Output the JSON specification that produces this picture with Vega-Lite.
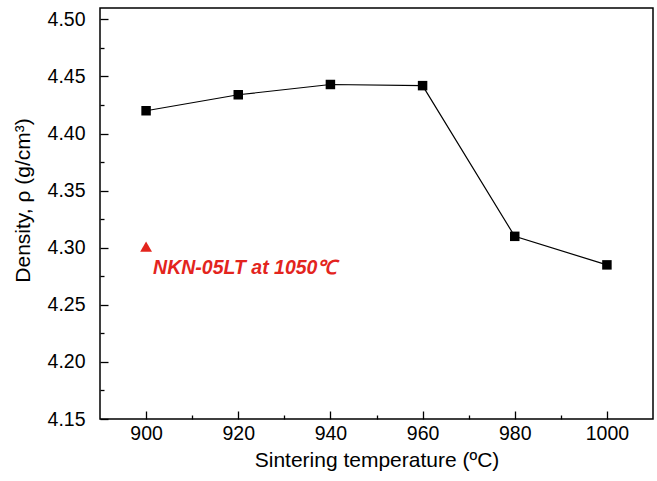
{
  "$schema": "https://vega.github.io/schema/vega-lite/v6.json",
  "width": 553,
  "height": 411,
  "autosize": {"type": "none"},
  "padding": {"left": 100, "top": 8, "right": 4, "bottom": 62},
  "background": "white",
  "config": {
    "font": "Liberation Sans",
    "view": {"stroke": "black", "strokeWidth": 1.5},
    "axis": {
      "domain": false,
      "tickColor": "black",
      "tickWidth": 1.3,
      "labelColor": "black",
      "titleColor": "black",
      "labelFont": "Liberation Sans",
      "titleFont": "Liberation Sans",
      "labelFontSize": 19.5,
      "titleFontSize": 21,
      "titleFontWeight": "normal",
      "grid": false
    }
  },
  "data": {
    "values": [
      {"temp": 900, "density": 4.420, "series": "NKN"},
      {"temp": 920, "density": 4.434, "series": "NKN"},
      {"temp": 940, "density": 4.443, "series": "NKN"},
      {"temp": 960, "density": 4.442, "series": "NKN"},
      {"temp": 980, "density": 4.310, "series": "NKN"},
      {"temp": 1000, "density": 4.285, "series": "NKN"},
      {"temp": 900, "density": 4.301, "series": "NKN-05LT at 1050℃"}
    ]
  },
  "resolve": {"axis": {"x": "independent", "y": "independent"}},
  "layer": [
    {
      "transform": [{"filter": "datum.series == 'NKN'"}],
      "mark": {"type": "line", "color": "black", "strokeWidth": 1.2},
      "encoding": {
        "x": {
          "field": "temp",
          "type": "quantitative",
          "scale": {"domain": [890, 1010], "nice": false, "zero": false},
          "axis": {
            "orient": "bottom",
            "title": "Sintering temperature (ºC)",
            "values": [900, 920, 940, 960, 980, 1000],
            "format": "d",
            "offset": -8,
            "tickSize": 8,
            "labelPadding": 5,
            "titlePadding": 7
          }
        },
        "y": {
          "field": "density",
          "type": "quantitative",
          "scale": {"domain": [4.15, 4.51], "nice": false, "zero": false},
          "axis": {
            "orient": "left",
            "title": "Density, ρ  (g/cm³)",
            "values": [4.15, 4.2, 4.25, 4.3, 4.35, 4.4, 4.45, 4.5],
            "format": ".2f",
            "offset": -8,
            "tickSize": 8,
            "labelPadding": 15,
            "titlePadding": 14,
            "titleY": 192
          }
        }
      }
    },
    {
      "transform": [{"filter": "datum.series == 'NKN'"}],
      "mark": {"type": "point", "shape": "square", "filled": true, "color": "black", "size": 90, "opacity": 1},
      "encoding": {
        "x": {
          "field": "temp",
          "type": "quantitative",
          "axis": {
            "orient": "bottom",
            "title": null,
            "labels": false,
            "values": [910, 930, 950, 970, 990],
            "offset": -4,
            "tickSize": 4
          }
        },
        "y": {
          "field": "density",
          "type": "quantitative",
          "axis": {
            "orient": "left",
            "title": null,
            "labels": false,
            "values": [4.175, 4.225, 4.275, 4.325, 4.375, 4.425, 4.475],
            "offset": -4,
            "tickSize": 4
          }
        }
      }
    },
    {
      "transform": [{"filter": "datum.series != 'NKN'"}],
      "mark": {"type": "point", "shape": "triangle-up", "filled": true, "color": "#e3241d", "size": 140, "opacity": 1},
      "encoding": {
        "x": {"field": "temp", "type": "quantitative", "axis": null},
        "y": {"field": "density", "type": "quantitative", "axis": null}
      }
    },
    {
      "transform": [{"filter": "datum.series != 'NKN'"}],
      "mark": {"type": "text", "align": "left", "baseline": "alphabetic", "dx": 7, "dy": 27, "fontSize": 19.5, "fontStyle": "italic", "fontWeight": "bold", "color": "#e3241d", "font": "Liberation Sans"},
      "encoding": {
        "x": {"field": "temp", "type": "quantitative", "axis": null},
        "y": {"field": "density", "type": "quantitative", "axis": null},
        "text": {"field": "series"}
      }
    }
  ]
}
